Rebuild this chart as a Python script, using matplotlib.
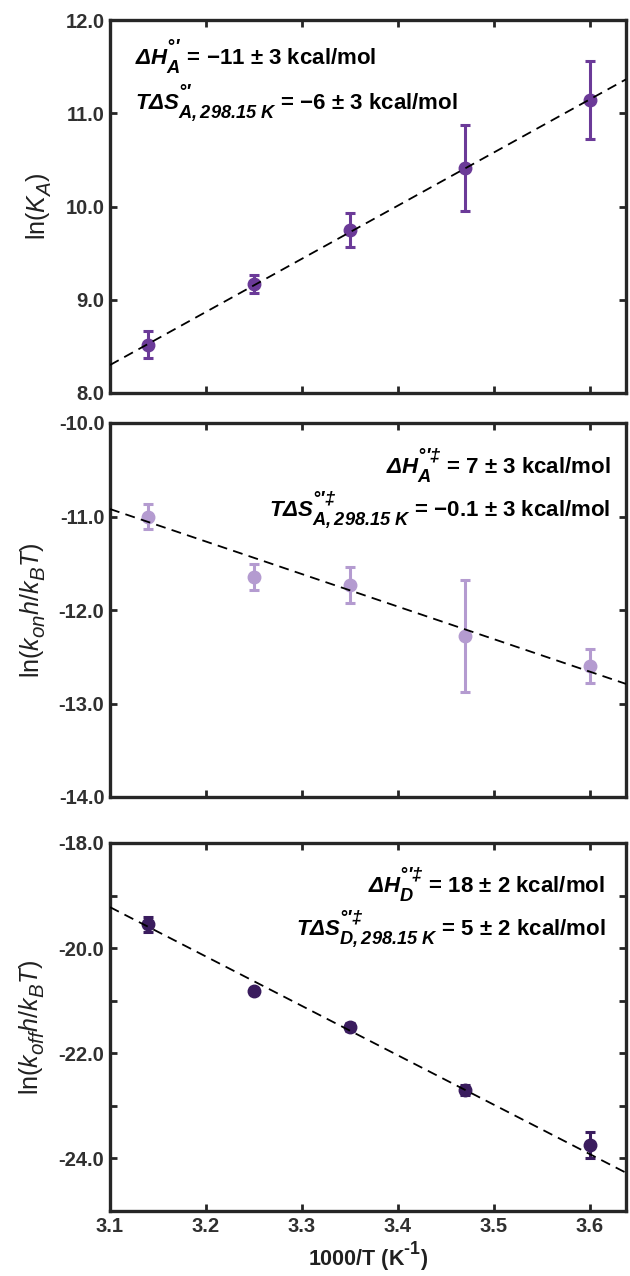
import matplotlib
matplotlib.use("Agg")
import matplotlib.pyplot as plt
import numpy as np
from matplotlib.ticker import FormatStrFormatter, MultipleLocator
import matplotlib._mathtext as _mt

# larger script size and more separated sub/superscripts (MATLAB-like look)
try:
    _mt.SHRINK_FACTOR = 0.82
    _mt.FontConstantsBase.sup1 = 0.95
    _mt.FontConstantsBase.sub1 = 0.45
    _mt.FontConstantsBase.sub2 = 0.75
except Exception:
    pass

plt.rcParams['font.family'] = ['Liberation Sans', 'DejaVu Sans']
plt.rcParams['axes.unicode_minus'] = False
plt.rcParams['mathtext.fontset'] = 'custom'
plt.rcParams['mathtext.rm'] = 'Liberation Sans'
plt.rcParams['mathtext.it'] = 'Liberation Sans:italic'
plt.rcParams['mathtext.bf'] = 'Liberation Sans:bold:italic'
plt.rcParams['mathtext.sf'] = 'Liberation Sans:bold'

# ---- data ----
inv_T = [3.14, 3.25, 3.35, 3.47, 3.60]

lnKA = [8.52, 9.17, 9.75, 10.41, 11.14]
lnKA_err = [0.14, 0.10, 0.18, 0.46, 0.42]
fitA = (5.70, 8.30)          # slope, value at x=3.1

lnkon = [-11.00, -11.65, -11.73, -12.28, -12.60]
lnkon_err = [0.13, 0.14, 0.19, 0.60, 0.18]
fitOn = (-3.48, -10.92)

lnkoff = [-19.55, -20.82, -21.50, -22.70, -23.75]
lnkoff_err = [0.15, 0.05, 0.07, 0.10, 0.25]
fitOff = (-9.40, -19.22)

x_ticks = [3.1, 3.2, 3.3, 3.4, 3.5, 3.6]

colors = ['#6b3a98', '#b49bd0', '#3a1c5e']
edge = '#262626'

fig = plt.figure(figsize=(6.3, 12.76), dpi=100)
W = 630.0; H = 1276.0
def box(l, t, r, b):
    return [l / W, 1 - b / H, (r - l) / W, (b - t) / H]

axes = [fig.add_axes(box(110, 20, 626, 393)),
        fig.add_axes(box(110, 423, 626, 797)),
        fig.add_axes(box(110, 843, 626, 1211))]

ys = [lnKA, lnkon, lnkoff]
errs = [lnKA_err, lnkon_err, lnkoff_err]
fits = [fitA, fitOn, fitOff]
ylims = [(8.0, 12.0), (-14.0, -10.0), (-25.0, -18.0)]
ylabels = [r'ln($\mathit{K}_{\mathit{A}}$)',
           r'ln($\mathit{k}_{\mathit{on}}\mathit{h}/\mathit{k}_{\mathit{B}}\mathit{T}$)',
           r'ln($\mathit{k}_{\mathit{off}}\mathit{h}/\mathit{k}_{\mathit{B}}\mathit{T}$)']

xl = (3.1, 3.6375)
for i, ax in enumerate(axes):
    xs = np.array(xl)
    s, b0 = fits[i]
    ax.plot(xs, b0 + s * (xs - 3.1), ls=(0, (5.5, 3.5)), color='black', lw=1.3, zorder=3)
    ax.errorbar(inv_T, ys[i], yerr=errs[i], fmt='o', color=colors[i], ms=9,
                elinewidth=2.2, capsize=3.5, capthick=2.2, zorder=2)
    ax.set_xlim(*xl)
    ax.set_ylim(*ylims[i])
    ax.set_xticks(x_ticks)
    ax.yaxis.set_major_locator(MultipleLocator(1.0))
    ax.tick_params(direction='in', length=5, width=2, top=True, right=True,
                   labelsize=14.5, color=edge, labelcolor='#303030', pad=4)
    for sp in ax.spines.values():
        sp.set_linewidth(2.4)
        sp.set_color(edge)
    for lab in ax.get_yticklabels() + ax.get_xticklabels():
        lab.set_fontweight('bold')
    ax.set_ylabel(ylabels[i], fontsize=18, labelpad=8, color='#202020')
    if i < 2:
        ax.tick_params(labelbottom=False)

axes[0].yaxis.set_major_formatter(FormatStrFormatter('%.1f'))
axes[1].yaxis.set_major_formatter(FormatStrFormatter('%.1f'))
# bottom panel: labels only on even values
yt3 = np.arange(-25.0, -17.5, 1.0)
axes[2].set_yticks(yt3)
axes[2].set_yticklabels(['' if (int(v) % 2) else '%.1f' % v for v in yt3],
                        fontweight='bold', fontsize=14.5)
axes[2].set_xticklabels(['%.1f' % v for v in x_ticks], fontweight='bold', fontsize=14.5)
axes[2].set_xlabel(r'1000/T (K$^{\mathsf{‐1}}$)', fontsize=15.5, fontweight='bold',
                   labelpad=3, color='#202020')

fs = 16
tk = dict(fontsize=fs, fontweight='bold', color='black', va='center')
axes[0].text(0.048, 0.90, r"$\mathbf{ΔH}^{\mathbf{°′}}_{\mathbf{A}}$ = −11 ± 3 kcal/mol",
             transform=axes[0].transAxes, ha='left', **tk)
axes[0].text(0.048, 0.775, r"$\mathbf{TΔS}^{\mathbf{°′}}_{\mathbf{A,298.15\ K}}$ = −6 ± 3 kcal/mol",
             transform=axes[0].transAxes, ha='left', **tk)
axes[1].text(0.97, 0.885, r"$\mathbf{ΔH}^{\mathbf{°′‡}}_{\mathbf{A}}$ = 7 ± 3 kcal/mol",
             transform=axes[1].transAxes, ha='right', **tk)
axes[1].text(0.97, 0.765, r"$\mathbf{TΔS}^{\mathbf{°′‡}}_{\mathbf{A,298.15\ K}}$ = −0.1 ± 3 kcal/mol",
             transform=axes[1].transAxes, ha='right', **tk)
axes[2].text(0.96, 0.885, r"$\mathbf{ΔH}^{\mathbf{°′‡}}_{\mathbf{D}}$ = 18 ± 2 kcal/mol",
             transform=axes[2].transAxes, ha='right', **tk)
axes[2].text(0.96, 0.765, r"$\mathbf{TΔS}^{\mathbf{°′‡}}_{\mathbf{D,298.15\ K}}$ = 5 ± 2 kcal/mol",
             transform=axes[2].transAxes, ha='right', **tk)

fig.savefig('out.png', dpi=100)
